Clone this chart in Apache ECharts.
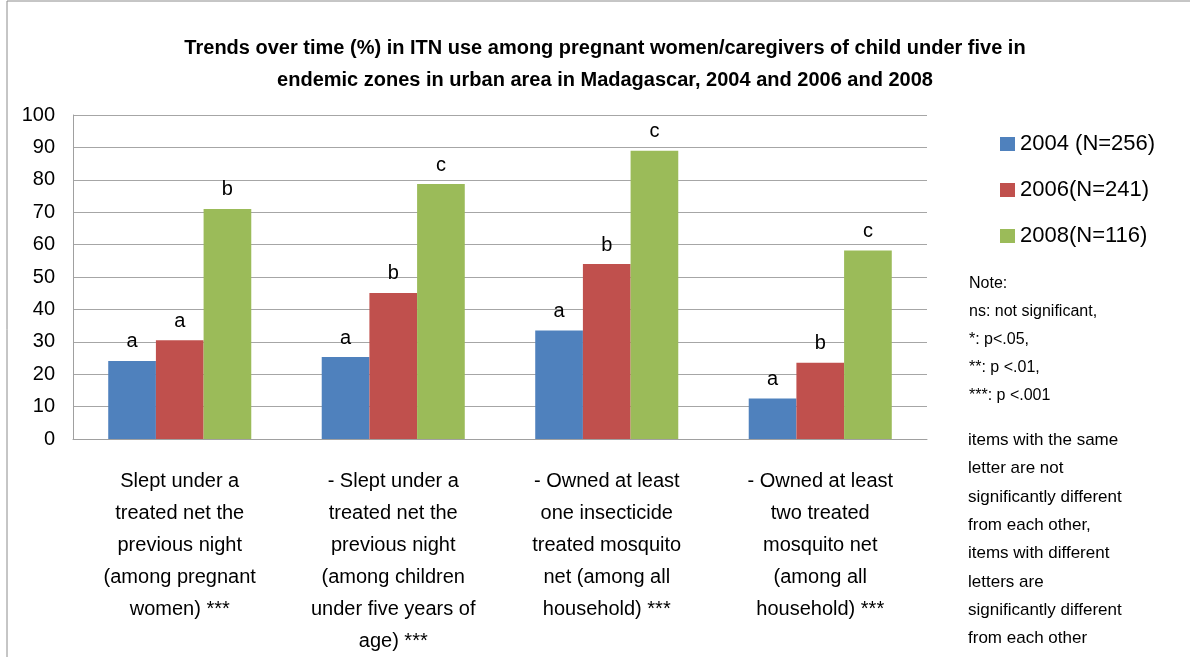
<!DOCTYPE html>
<html><head><meta charset="utf-8">
<script src="https://cdn.jsdelivr.net/npm/echarts@6/dist/echarts.min.js"></script>
<style>html,body{margin:0;padding:0;background:#fff}#c{width:1190px;height:657px}</style>
</head><body><div id="c"></div>
<script>
var categories = [
  "Slept under a\ntreated net the\nprevious night\n(among pregnant\nwomen) ***",
  "- Slept under a\ntreated net the\nprevious night\n(among children\nunder five years of\nage) ***",
  "- Owned at least\none insecticide\ntreated mosquito\nnet (among all\nhousehold) ***",
  "- Owned at least\ntwo treated\nmosquito net\n(among all\nhousehold) ***"
];
var seriesNames = ["2004 (N=256)", "2006(N=241)", "2008(N=116)"];
var v2004 = [24.1, 25.3, 33.5, 12.5];
var v2006 = [30.5, 45.1, 54.0, 23.5];
var v2008 = [71.0, 78.7, 89.0, 58.2];
var letters2004 = ["a", "a", "a", "a"];
var letters2006 = ["a", "b", "b", "b"];
var letters2008 = ["b", "c", "c", "c"];
var yTicks = [0, 10, 20, 30, 40, 50, 60, 70, 80, 90, 100];
var titleLines = "Trends over time (%) in ITN use among pregnant women/caregivers of child under five in\nendemic zones in urban area in Madagascar, 2004 and 2006 and 2008";
var noteLines1 = ["Note:", "ns: not significant,", "*: p<.05,", "**: p <.01,", "***: p <.001"];
var noteLines2 = ["items with the same", "letter are not", "significantly different", "from each other,", "items with different", "letters are", "significantly different", "from each other"];
var colors = ["#4F81BD", "#C0504D", "#9BBB59"];
var FONT = "'Liberation Sans', 'DejaVu Sans', sans-serif";

var chart = echarts.init(document.getElementById('c'));
function mk(name, data, letters, color) {
  return {
    name: name, type: 'bar', data: data, barGap: '0%', barCategoryGap: '33%',
    itemStyle: {color: color},
    label: {show: true, position: 'top', distance: 9, color: '#000', fontSize: 20, fontFamily: FONT,
      formatter: function(p){ return letters[p.dataIndex]; }}
  };
}
var graphics = [
  {type: 'rect', shape: {x: 7, y: 1, width: 1200, height: 700}, style: {fill: 'none', stroke: '#8c8c8c', lineWidth: 1}, silent: true}
];
noteLines1.forEach(function(t, i){
  graphics.push({type: 'text', left: 969, top: 276 + i*28, style: {text: t, fontSize: 16, fontFamily: FONT, fill: '#000'}});
});
noteLines2.forEach(function(t, i){
  graphics.push({type: 'text', left: 968, top: 432 + i*28.3, style: {text: t, fontSize: 17, fontFamily: FONT, fill: '#000'}});
});
chart.setOption({
  animation: false,
  color: colors,
  title: {text: titleLines, left: 600, textAlign: 'center', top: 27,
    textStyle: {fontSize: 20, fontWeight: 'bold', fontFamily: FONT, color: '#000', lineHeight: 32}},
  legend: {orient: 'vertical', left: 995, top: 128, itemWidth: 15, itemHeight: 14, itemGap: 24,
    icon: 'rect', textStyle: {fontSize: 22, fontFamily: FONT, color: '#000'}, data: seriesNames},
  grid: {left: 73, right: 263, top: 115, bottom: 213, containLabel: false},
  xAxis: {type: 'category', data: categories,
    axisLine: {lineStyle: {color: '#a0a0a0'}}, axisTick: {show: false},
    axisLabel: {fontSize: 20, fontFamily: FONT, color: '#000', lineHeight: 32, margin: 26, interval: 0, align: 'center'}},
  yAxis: {type: 'value', min: yTicks[0], max: yTicks[yTicks.length-1], interval: 10,
    axisLine: {show: true, lineStyle: {color: '#a0a0a0'}}, axisTick: {show: false},
    splitLine: {lineStyle: {color: '#a6a6a6'}},
    axisLabel: {fontSize: 20, fontFamily: FONT, color: '#000', margin: 18}},
  series: [
    mk(seriesNames[0], v2004, letters2004, colors[0]),
    mk(seriesNames[1], v2006, letters2006, colors[1]),
    mk(seriesNames[2], v2008, letters2008, colors[2])
  ],
  graphic: graphics
});
</script></body></html>
